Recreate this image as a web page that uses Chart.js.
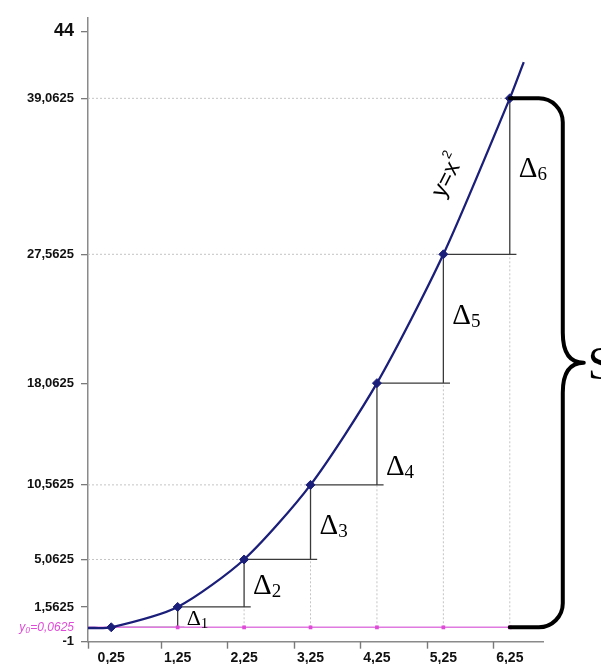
<!DOCTYPE html>
<html>
<head>
<meta charset="utf-8">
<script src="https://cdn.jsdelivr.net/npm/chart.js@4.4.1/dist/chart.umd.min.js"></script>
<style>
  html, body { margin: 0; padding: 0; background: #fff; }
  canvas { display: block; }
</style>
</head>
<body>
<canvas id="chart" width="601" height="664"></canvas>
<script>
// values
const xPoints = [0.25, 1.25, 2.25, 3.25, 4.25, 5.25, 6.25];
const yPoints = [0.0625, 1.5625, 5.0625, 10.5625, 18.0625, 27.5625, 39.0625];
const curveStart = { x: -0.1, y: 0.01 };   // where y=x^2 leaves the y axis
const curveEnd = { x: 6.46, y: 41.73 };    // top end of the drawn curve
const y0 = 0.0625;
const yTickValues = [-1, 0.0625, 1.5625, 5.0625, 10.5625, 18.0625, 27.5625, 39.0625, 44];
const xTickValues = [0.25, 1.25, 2.25, 3.25, 4.25, 5.25, 6.25];
const xMarkValues = [1, 2, 3, 4, 5, 6];
const dottedLevels = [5.0625, 10.5625, 27.5625, 39.0625];
const deltaNames = ['1', '2', '3', '4', '5', '6'];
const deltaBaselines = [0.22, 2.55, 6.93, 11.31, 22.41, 33.28];

const NAVY = '#1b1f7a';
const PINK = '#e04ad8';
const LABEL_FONT = 'Liberation Sans';
const fmt = v => String(v).replace('.', ',');

// step lines (horizontal run + vertical rise) of each delta, gaps as null
const stepData = [];
for (let k = 1; k < xPoints.length; k++) {
  stepData.push({ x: xPoints[k - 1], y: yPoints[k - 1] });
  stepData.push({ x: xPoints[k] + 0.1, y: yPoints[k - 1] });
  stepData.push({ x: xPoints[k], y: null });
  stepData.push({ x: xPoints[k], y: yPoints[k - 1] });
  stepData.push({ x: xPoints[k], y: yPoints[k] });
  stepData.push({ x: xPoints[k], y: null });
}

// dotted guide lines
const dotData = [];
dottedLevels.forEach(lv => {
  const i = yPoints.indexOf(lv);
  dotData.push({ x: -0.1, y: lv }, { x: xPoints[i], y: lv }, { x: xPoints[i], y: null });
});
for (let k = 2; k < xPoints.length; k++) {
  dotData.push({ x: xPoints[k], y: y0 }, { x: xPoints[k], y: yPoints[k - 1] }, { x: xPoints[k], y: null });
}

const curveData = [curveStart, ...xPoints.map((x, i) => ({ x, y: yPoints[i] })), curveEnd];
const baseData = [{ x: -0.1, y: y0 }, ...xPoints.map(x => ({ x, y: y0 }))];

const extras = {
  id: 'extras',
  afterDatasetsDraw(chart) {
    const { ctx, scales: { x: xs, y: ys } } = chart;
    ctx.save();

    // x axis tick marks sit between the labels
    ctx.strokeStyle = '#7a7a7a';
    ctx.lineWidth = 1.4;
    const axisY = xs.top;
    [xs.left, ...xMarkValues.map(v => xs.getPixelForValue(v))].forEach(px => {
      ctx.beginPath();
      ctx.moveTo(Math.round(px) + 0.5, axisY);
      ctx.lineTo(Math.round(px) + 0.5, axisY + 7);
      ctx.stroke();
    });

    // brace
    const bx = xs.getPixelForValue(xPoints[6]);
    const yt = ys.getPixelForValue(yPoints[6]);
    const yb = ys.getPixelForValue(y0);
    const ym = (yt + yb) / 2;
    const colX = bx + 53, tipX = bx + 74, r = 24;
    ctx.strokeStyle = '#000';
    ctx.lineWidth = 4;
    ctx.lineCap = 'round';
    ctx.lineJoin = 'round';
    ctx.beginPath();
    ctx.moveTo(bx, yt);
    ctx.arcTo(colX, yt, colX, yt + r, r);
    ctx.lineTo(colX, ym - 30);
    ctx.quadraticCurveTo(colX, ym, tipX, ym);
    ctx.quadraticCurveTo(colX, ym, colX, ym + 30);
    ctx.lineTo(colX, yb - r);
    ctx.arcTo(colX, yb, bx, yb, r);
    ctx.lineTo(bx, yb);
    ctx.stroke();

    ctx.fillStyle = '#000';
    ctx.textBaseline = 'alphabetic';
    ctx.textAlign = 'left';
    ctx.font = '46px "Liberation Serif"';
    ctx.fillText('S', tipX + 4, ym + 16);

    // delta labels
    deltaNames.forEach((n, i) => {
      const px = xs.getPixelForValue(xPoints[i + 1]) + 9;
      const py = ys.getPixelForValue(deltaBaselines[i]);
      const big = i === 0 ? 22 : 29;
      const small = i === 0 ? 15 : 19;
      ctx.font = big + 'px "Liberation Serif"';
      ctx.fillText('Δ', px, py);
      const w = ctx.measureText('Δ').width;
      ctx.font = small + 'px "Liberation Serif"';
      ctx.fillText(n, px + w, py + 3);
    });

    // y=x² label along the curve
    const cx = xs.getPixelForValue(5.3);
    const cy = ys.getPixelForValue(33.4);
    ctx.translate(cx, cy);
    ctx.rotate(-63 * Math.PI / 180);
    ctx.font = '23px "Liberation Sans"';
    const w1 = ctx.measureText('y=x').width;
    ctx.font = '13px "Liberation Sans"';
    const w2 = ctx.measureText('2').width;
    const sx = -(w1 + w2 + 1) / 2;
    ctx.font = '23px "Liberation Sans"';
    ctx.fillText('y=x', sx, 8);
    ctx.font = '13px "Liberation Sans"';
    ctx.fillText('2', sx + w1 + 1, -5);

    ctx.restore();
  }
};

new Chart(document.getElementById('chart'), {
  type: 'scatter',
  data: {
    datasets: [
      {
        data: curveData,
        showLine: true,
        borderColor: NAVY,
        backgroundColor: NAVY,
        borderWidth: 2.3,
        tension: 0.25,
        pointStyle: 'rectRot',
        pointRadius: c => (c.dataIndex === 0 || c.dataIndex === curveData.length - 1) ? 0 : 4.5,
        pointBorderWidth: 1
      },
      {
        data: baseData,
        showLine: true,
        borderColor: '#e07ae0',
        backgroundColor: PINK,
        borderWidth: 1.5,
        pointStyle: 'rect',
        pointRadius: c => c.dataIndex >= 2 ? 2.6 : 0,
        pointBorderWidth: 0
      },
      {
        data: stepData,
        showLine: true,
        spanGaps: false,
        borderColor: '#3a3a3a',
        borderWidth: 1.3,
        pointRadius: 0
      },
      {
        data: dotData,
        showLine: true,
        spanGaps: false,
        borderColor: '#c4c4c4',
        borderWidth: 1,
        borderDash: [2, 2],
        pointRadius: 0
      }
    ]
  },
  options: {
    responsive: false,
    animation: false,
    layout: { padding: { top: 11.3, right: 58, left: 0, bottom: 0 } },
    plugins: { legend: { display: false }, tooltip: { enabled: false } },
    scales: {
      x: {
        type: 'linear',
        min: -0.1,
        max: 6.75,
        afterFit: s => { s.height = 22.3; },
        afterBuildTicks: s => { s.ticks = xTickValues.map(v => ({ value: v })); },
        grid: { display: false, drawTicks: false },
        border: { display: true, color: '#8a8a8a', width: 1.5 },
        ticks: {
          padding: 8,
          autoSkip: false,
          maxRotation: 0,
          color: '#111',
          font: { family: LABEL_FONT, size: 14, weight: 'bold' },
          callback: v => fmt(v)
        }
      },
      y: {
        type: 'linear',
        min: -1,
        max: 45,
        afterFit: s => { s.width = 88; },
        afterBuildTicks: s => { s.ticks = yTickValues.map(v => ({ value: v })); },
        grid: {
          drawOnChartArea: false,
          drawTicks: true,
          tickLength: 7,
          lineWidth: 1.3,
          tickColor: c => (c.tick && c.tick.value === y0) ? 'rgba(0,0,0,0)' : '#7a7a7a'
        },
        border: { display: true, color: '#8a8a8a', width: 1.5 },
        ticks: {
          padding: 7,
          autoSkip: false,
          color: c => (c.tick && c.tick.value === y0) ? PINK : '#111',
          font: c => {
            const v = c.tick ? c.tick.value : 0;
            if (v === 44) return { family: LABEL_FONT, size: 18, weight: 'bold' };
            if (v === y0) return { family: LABEL_FONT, size: 12, style: 'italic', weight: 'normal' };
            return { family: LABEL_FONT, size: 13, weight: 'bold' };
          },
          callback: v => v === y0 ? 'y₀=0,0625' : fmt(v)
        }
      }
    }
  },
  plugins: [extras]
});
</script>
</body>
</html>
